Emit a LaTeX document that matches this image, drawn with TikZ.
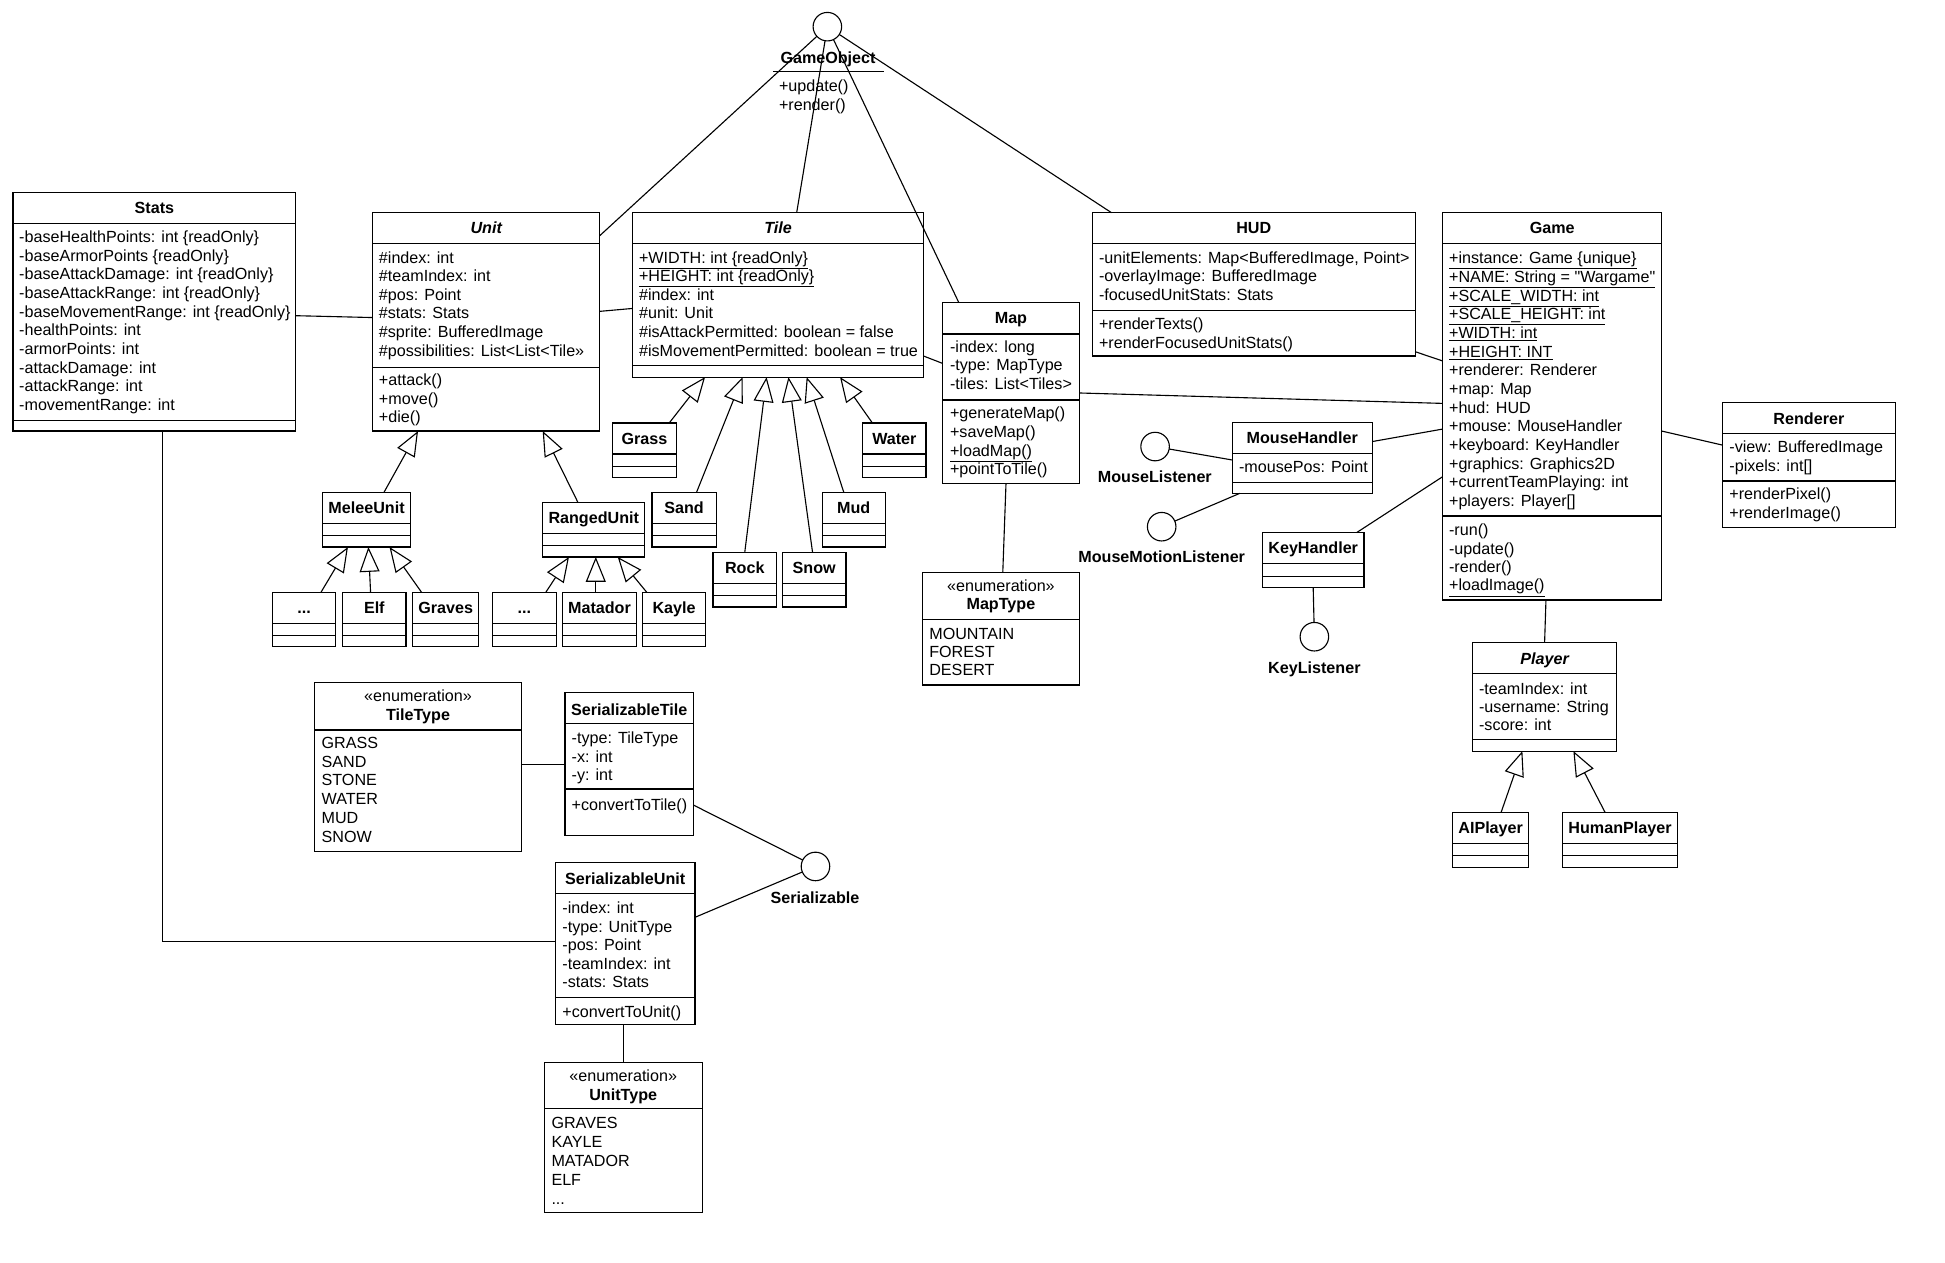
\documentclass[tikz,border=0pt]{standalone}
\usepackage{fontspec}
\setmainfont{Liberation Sans}
\usetikzlibrary{arrows.meta}
\tikzset{
  ln/.style={line width=0.9pt},
  cls/.style={draw, line width=0.9pt, inner sep=0, outer sep=0, anchor=north west},
  txt/.style={inner sep=0, outer sep=0, font=\fontsize{13}{15}\selectfont, text height=9.4pt, text depth=2.7pt, anchor=west, yshift=-1.2pt},
  txtc/.style={txt, anchor=center},
  hdr/.style={inner sep=0, outer sep=0, font=\fontsize{13}{15}\selectfont\bfseries, text height=9.4pt, text depth=2.7pt, yshift=-1.2pt},
  hdri/.style={hdr, font=\fontsize{13}{15}\selectfont\bfseries\itshape},
  iface/.style={draw, circle, line width=0.9pt, minimum size=23pt, inner sep=0, outer sep=0},
  assoc/.style={line width=0.9pt},
  gen/.style={line width=0.9pt, -{Triangle[open, length=20pt, width=16pt]}},
}
\newcommand\classbox[6]{%
  \node[cls, minimum width={(#4)-(#2)}, minimum height={(#5)-(#3)}] (#1) at (#2,#3) {};
  \foreach \s in {#6} {\draw[ln] (#2,{\s}) -- (#4,{\s});}%
}
\newcommand\tlines[5]{%
  \foreach \ltext [count=\i from 0] in {#5} {\node[txt] (#1\i) at (#2,{#3+\i*#4}) {\ltext};}%
}
\newcommand\smallbox[5]{%
  \classbox{#1}{#2}{#3}{#4}{#3+44}{#3+25,#3+35}%
  \node[hdr] (#1-h) at ({(#2+#4)/2},{#3+12.5}) {#5};%
}
\begin{document}
\begin{tikzpicture}[x=1pt,y=-1pt]
\fill[white] (0,0) rectangle (1568,1017.4);
\useasboundingbox (0,0) rectangle (1568,1017.4);

% GameObject interface
\node[iface] (go) at (667,21.5) {};
\node[hdr] (golbl) at (667.5,46.5) {GameObject};
\draw[ln] (623,57.5) -- (712.5,57.5);
\tlines{gom}{628}{69.5}{15}{+update(),+render()}

% Stats
\classbox{stats}{10.5}{155.5}{238.5}{347.5}{180,339}
\node[hdr] (stats-h) at (124.5,167.8) {Stats};
\tlines{sa}{15.5}{191}{15.03}{-baseHealthPoints: int \{readOnly\},-baseArmorPoints \{readOnly\},-baseAttackDamage: int \{readOnly\},-baseAttackRange: int \{readOnly\},-baseMovementRange: int \{readOnly\},-healthPoints: int,-armorPoints: int,-attackDamage: int,-attackRange: int,-movementRange: int}

% Unit
\classbox{unit}{300.5}{171.5}{483.5}{347.5}{196,296}
\node[hdri] (unit-h) at (392,184) {Unit};
\tlines{ua}{305.5}{207.5}{15}{\#index: int,\#teamIndex: int,\#pos: Point,\#stats: Stats,\#sprite: BufferedImage,\#possibilities: List<List<Tile>>}
\tlines{um}{305.5}{306.4}{15}{+attack(),+move(),+die()}

% Tile
\classbox{tile}{510}{171.5}{744.5}{304}{196,295}
\node[hdri] (tile-h) at (627.25,184) {Tile};
\tlines{ta}{515.2}{207.5}{15}{\underline{+WIDTH: int \{readOnly\}},\underline{+HEIGHT: int \{readOnly\}},\#index: int,\#unit: Unit,\#isAttackPermitted: boolean = false,\#isMovementPermitted: boolean = true}

% Map
\classbox{map}{760}{244}{870}{389.6}{269.3,322.5}
\node[hdr] (map-h) at (815,256.6) {Map};
\tlines{ma}{765.9}{279.5}{15}{-index: long,-type: MapType,-tiles: List<Tiles>}
\tlines{mm}{765.9}{333.2}{15}{+generateMap(),+saveMap(),\underline{+loadMap()},+pointToTile()}

% HUD
\classbox{hud}{880.6}{171.5}{1140.8}{287}{196.2,250}
\node[hdr] (hud-h) at (1010.7,184) {HUD};
\tlines{ha}{886}{207.5}{15}{{-unitElements: Map<BufferedImage, Point>},-overlayImage: BufferedImage,-focusedUnitStats: Stats}
\tlines{hm}{886}{261.2}{15}{+renderTexts(),+renderFocusedUnitStats()}

% Game
\classbox{game}{1163}{171.5}{1339.6}{483.7}{196.2,416}
\node[hdr] (game-h) at (1251.3,184) {Game};
\tlines{ga}{1168.2}{208}{15.07}{\underline{+instance: Game \{unique\}},\underline{+NAME: String = \textquotedbl Wargame\textquotedbl},\underline{+SCALE\_WIDTH: int},\underline{+SCALE\_HEIGHT: int},\underline{+WIDTH: int},\underline{+HEIGHT: INT},+renderer: Renderer,+map: Map,+hud: HUD,+mouse: MouseHandler,+keyboard: KeyHandler,+graphics: Graphics2D,+currentTeamPlaying: int,+players: Player[]}
\tlines{gm}{1168.2}{427.3}{14.85}{-run(),-update(),-render(),\underline{+loadImage()}}

% Renderer
\classbox{renderer}{1388.5}{324.4}{1528}{425.1}{349.4,387.8}
\node[hdr] (renderer-h) at (1458.25,337.3) {Renderer};
\tlines{ra}{1394.2}{360.6}{14.8}{-view: BufferedImage,-pixels: int[]}
\tlines{rm}{1394.2}{398.5}{15.3}{+renderPixel(),+renderImage()}

% Player
\classbox{player}{1187}{518.1}{1303.4}{605.5}{542.8,596}
\node[hdri] (player-h) at (1245.2,530.8) {Player};
\tlines{pa}{1192.4}{555}{14.8}{-teamIndex: int,-username: String,-score: int}
\smallbox{ai}{1171}{655}{1232.4}{AIPlayer}
\smallbox{human}{1259.5}{655}{1352.5}{HumanPlayer}

% Handlers
\classbox{mh}{993.5}{340.8}{1106.1}{397.7}{365.5,388.9}
\node[hdr] (mh-h) at (1049.8,353) {MouseHandler};
\tlines{mha}{998.9}{376.7}{15}{-mousePos: Point}
\smallbox{kh}{1017.7}{429.4}{1099.6}{KeyHandler}

% Interfaces
\node[iface] (ml) at (931.2,360) {};
\node[hdr] (ml-l) at (931,384.8) {MouseListener};
\node[iface] (mml) at (936.5,424.6) {};
\node[hdr] (mml-l) at (936.5,449.3) {MouseMotionListener};
\node[iface] (kl) at (1059.6,513.3) {};
\node[hdr] (kl-l) at (1059.6,538) {KeyListener};
\node[iface] (ser) at (657.4,698.5) {};
\node[hdr] (ser-l) at (657,723.5) {Serializable};

% MapType
\classbox{maptype}{743.6}{461.7}{870.2}{552.2}{499.3}
\node[txtc] (maptype-s) at (806.9,472.2) {«enumeration»};
\node[hdr] (maptype-h) at (806.9,487.2) {MapType};
\tlines{mta}{749.2}{510.6}{14.9}{MOUNTAIN,FOREST,DESERT}

% TileType
\classbox{tiletype}{253.4}{550.4}{420.6}{686.1}{588.5}
\node[txtc] (tiletype-s) at (337,561.1) {«enumeration»};
\node[hdr] (tiletype-h) at (337,576.4) {TileType};
\tlines{tta}{259.3}{598.7}{15.15}{GRASS,SAND,STONE,WATER,MUD,SNOW}

% SerializableTile
\classbox{sertile}{455.5}{558.4}{559}{673.7}{583.1,636.1}
\node[hdr] (sertile-h) at (507.25,571.9) {SerializableTile};
\tlines{sta}{460.9}{594.7}{15.05}{-type: TileType,-x: int,-y: int}
\tlines{stm}{460.9}{649}{15}{+convertToTile()}

% SerializableUnit
\classbox{serunit}{447.7}{695.3}{560.3}{825.8}{720.2,804}
\node[hdr] (serunit-h) at (504,708.5) {SerializableUnit};
\tlines{sua}{453.4}{732}{14.95}{-index: int,-type: UnitType,-pos: Point,-teamIndex: int,-stats: Stats}
\tlines{sum}{453.4}{816}{15}{+convertToUnit()}

% UnitType
\classbox{unittype}{438.6}{856.4}{566.2}{977.4}{893.5}
\node[txtc] (unittype-s) at (502.4,867.5) {«enumeration»};
\node[hdr] (unittype-h) at (502.4,882.5) {UnitType};
\tlines{uta}{444.6}{905.6}{15.2}{GRAVES,KAYLE,MATADOR,ELF}
\node[txt] (uta4) at (444.6,966.4) {...};

% Small subclasses
\smallbox{grass}{493.5}{341}{545.5}{Grass}
\smallbox{water}{695.5}{341}{746.5}{Water}
\smallbox{sand}{525.6}{397}{577.4}{Sand}
\smallbox{mud}{663}{397}{713.5}{Mud}
\smallbox{rock}{574.8}{445.3}{626}{Rock}
\smallbox{snow}{630.7}{445.3}{682}{Snow}
\smallbox{melee}{260}{397}{331}{MeleeUnit}
\smallbox{ranged}{437.5}{405}{519.8}{RangedUnit}
\smallbox{dotsm}{219.7}{477.5}{270.8}{...}
\smallbox{elf}{276.2}{477.5}{327.3}{Elf}
\smallbox{graves}{332.7}{477.5}{386}{Graves}
\smallbox{dotsr}{397.1}{477.5}{448.3}{...}
\smallbox{matador}{453.6}{477.5}{513}{Matador}
\smallbox{kayle}{518}{477.5}{568.8}{Kayle}

% GameObject realizations
\draw[assoc] (go) -- ([yshift=-18.5pt]unit.north east);
\draw[assoc] (go) -- ([xshift=15pt]tile.north);
\draw[assoc] (go) -- ([xshift=13pt]map.north west);
\draw[assoc] (go) -- ([xshift=15.5pt]hud.north west);

% Associations
\draw[assoc] ([yshift=-3pt]stats.east) -- ([yshift=3.5pt]unit.west);
\draw[assoc] ([yshift=8.5pt]unit.east) -- ([yshift=-10.9pt]tile.west);
\draw[assoc] ([yshift=17pt]tile.south east) -- ([yshift=-49pt]map.north west);
\draw[assoc] (map.east) -- ([yshift=2.4pt]game.west);
\draw[assoc] ([yshift=3.5pt]hud.south east) -- ([yshift=-119.5pt]game.north west);
\draw[assoc] ([yshift=-15.2pt]mh.north east) -- ([yshift=-18.3pt]game.west);
\draw[assoc] ([xshift=-6pt]kh.north east) -- ([yshift=-56.7pt]game.west);
\draw[assoc] ([yshift=-19.9pt]game.east) -- ([yshift=15.95pt]renderer.west);
\draw[assoc] ([xshift=-5pt]game.south) -- (player.north);
\draw[assoc] (ml) -- ([yshift=-1.6pt]mh.west);
\draw[assoc] (mml) -- ([xshift=6pt]mh.south west);
\draw[assoc] (kh.south) -- (kl);
\draw[assoc] ([xshift=-4pt]map.south) -- ([xshift=1.5pt]maptype.north);
\draw[assoc] (sertile.west) -- (sertile.west -| tiletype.east);
\draw[assoc] ([yshift=-32.95pt]sertile.east) -- (ser);
\draw[assoc] ([yshift=21.05pt]serunit.east) -- (ser);
\draw[assoc] ([xshift=6.5pt]stats.south) |- ([yshift=1.3pt]serunit.west);
\draw[assoc] ([xshift=-1.5pt]serunit.south) -- ([xshift=-1.5pt]serunit.south |- unittype.north);

% Generalizations
\draw[gen] ([xshift=20pt]grass.north) -- ([xshift=58.4pt]tile.south west);
\draw[gen] ([xshift=10pt]sand.north) -- ([xshift=88.7pt]tile.south west);
\draw[gen] (rock.north) -- ([xshift=108pt]tile.south west);
\draw[gen] ([xshift=-1.3pt]snow.north) -- ([xshift=125.6pt]tile.south west);
\draw[gen] ([xshift=-8pt]mud.north) -- ([xshift=140.3pt]tile.south west);
\draw[gen] ([xshift=-17.7pt]water.north) -- ([xshift=167.2pt]tile.south west);
\draw[gen] ([xshift=14pt]melee.north) -- ([xshift=36.5pt]unit.south west);
\draw[gen] ([xshift=-12.75pt]ranged.north) -- ([xshift=137pt]unit.south west);
\draw[gen] ([xshift=13.5pt]dotsm.north) -- ([xshift=20.5pt]melee.south west);
\draw[gen] ([xshift=-3pt]elf.north) -- ([xshift=37pt]melee.south west);
\draw[gen] ([xshift=-19.5pt]graves.north) -- ([xshift=54pt]melee.south west);
\draw[gen] ([xshift=17.3pt]dotsr.north) -- ([xshift=21.2pt]ranged.south west);
\draw[gen] ([xshift=-3pt]matador.north) -- ([xshift=42.8pt]ranged.south west);
\draw[gen] ([xshift=-22pt]kayle.north) -- ([xshift=60.5pt]ranged.south west);
\draw[gen] ([xshift=8.4pt]ai.north) -- ([xshift=40.3pt]player.south west);
\draw[gen] ([xshift=-12pt]human.north) -- ([xshift=81.4pt]player.south west);
\end{tikzpicture}
\end{document}
